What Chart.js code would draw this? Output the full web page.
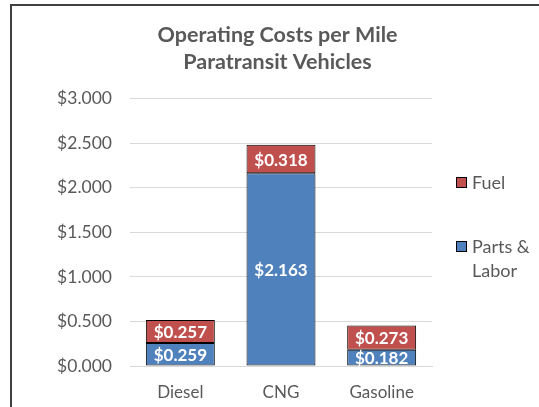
<!DOCTYPE html>
<html>
<head>
<meta charset="utf-8">
<script src="https://cdn.jsdelivr.net/npm/chart.js@4"></script>
<style>
    body { margin: 0; background: #fff; }
    #frame { position: absolute; left: 10px; top: 4px; width: 560px; height: 440px;
             border-left: 2px solid #404040; border-top: 2px solid #404040; }
    #wrap { position: absolute; left: 0; top: 0; width: 539px; height: 407px; }
    #legend { position: absolute; left: 456px; top: 0; font-family: Lato, sans-serif; font-size: 18px; color: #595959; }
    .item { position: absolute; left: 0; white-space: nowrap; line-height: 24px; }
    .box { position: absolute; left: 0; top: 7px; width: 9px; height: 9px; border: 1px solid #000; }
    .txt { position: absolute; left: 16px; top: 0; }
</style>
</head>
<body>
<div id="frame"></div>
<div id="wrap"><canvas id="myChart" width="539" height="407"></canvas></div>
<div id="legend"></div>
<script>
var categories = ['Diesel', 'CNG', 'Gasoline'];
var partsLabor = [0.259, 2.163, 0.182]; // Parts & Labor
var fuel = [0.257, 0.318, 0.273]; // Fuel
var seriesNames = ['Parts & Labor', 'Fuel'];
var legendText = [['Fuel'], ['Parts &', 'Labor']];
var colors = ['#4F81BD', '#C0504D'];

// Werte in die Balken schreiben
var labelPlugin = {
    id: 'barLabels',
    afterDatasetsDraw: function (chart) {
        var ctx = chart.ctx;
        ctx.save();
        ctx.font = 'bold 17px Lato, sans-serif';
        ctx.fillStyle = '#fff';
        ctx.textAlign = 'center';
        ctx.textBaseline = 'middle';
        chart.data.datasets.forEach(function (ds, i) {
            chart.getDatasetMeta(i).data.forEach(function (bar, j) {
                var mid = (bar.y + bar.base) / 2;
                ctx.fillText('$' + ds.data[j].toFixed(3), bar.x, mid + 1);
            });
        });
        ctx.restore();
    }
};

var ctx = document.getElementById('myChart').getContext('2d');
var myChart = new Chart(ctx, {
    type: 'bar',
    data: {
        labels: categories,
        datasets: [{
            label: seriesNames[0],
            data: partsLabor,
            backgroundColor: colors[0],
            borderColor: '#000',
            borderWidth: 1,
            borderSkipped: false
        }, {
            label: seriesNames[1],
            data: fuel,
            backgroundColor: colors[1],
            borderColor: '#000',
            borderWidth: 1,
            borderSkipped: false
        }]
    },
    options: {
        responsive: false,
        animation: false,
        layout: { padding: { left: 16, right: 0, top: 0, bottom: 0 } },
        datasets: { bar: { barPercentage: 0.685, categoryPercentage: 1 } },
        plugins: {
            legend: { display: false },
            tooltip: { enabled: false },
            title: {
                display: true,
                text: ['Operating Costs per Mile', 'Paratransit Vehicles'],
                color: '#595959',
                font: { family: 'Lato, sans-serif', size: 21.5, weight: 'bold', lineHeight: 1.27 },
                padding: { top: 21, bottom: 23 }
            }
        },
        scales: {
            x: {
                stacked: true,
                grid: { display: false, drawTicks: false },
                border: { display: true, color: '#d9d9d9', width: 1 },
                ticks: { color: '#595959', font: { family: 'Lato, sans-serif', size: 17 }, padding: 16 },
                afterFit: function (scale) { scale.height = 41; }
            },
            y: {
                stacked: true,
                min: 0,
                max: 3,
                ticks: {
                    stepSize: 0.5,
                    color: '#595959',
                    padding: 18,
                    font: { family: 'Lato, sans-serif', size: 17.5 },
                    callback: function (v) { return '$' + v.toFixed(3); }
                },
                grid: { color: '#d9d9d9', drawTicks: false },
                border: { display: false },
                afterFit: function (scale) { scale.width = 114; }
            },
            // leerer Platz rechts für die Legende
            spacer: {
                type: 'linear',
                position: 'right',
                ticks: { display: false },
                grid: { display: false, drawTicks: false },
                border: { display: false },
                afterFit: function (scale) { scale.width = 107; }
            }
        }
    },
    plugins: [labelPlugin]
});

// Legende wie im Original rechts daneben
var legendTops = [170, 234];
var order = [1, 0];
var html = '';
order.forEach(function (idx, k) {
    html += '<div class="item" style="top:' + legendTops[k] + 'px">' +
        '<span class="box" style="background:' + colors[idx] + '"></span>' +
        '<span class="txt">' + legendText[k].join('<br>') + '</span></div>';
});
document.getElementById('legend').innerHTML = html;
</script>
</body>
</html>
